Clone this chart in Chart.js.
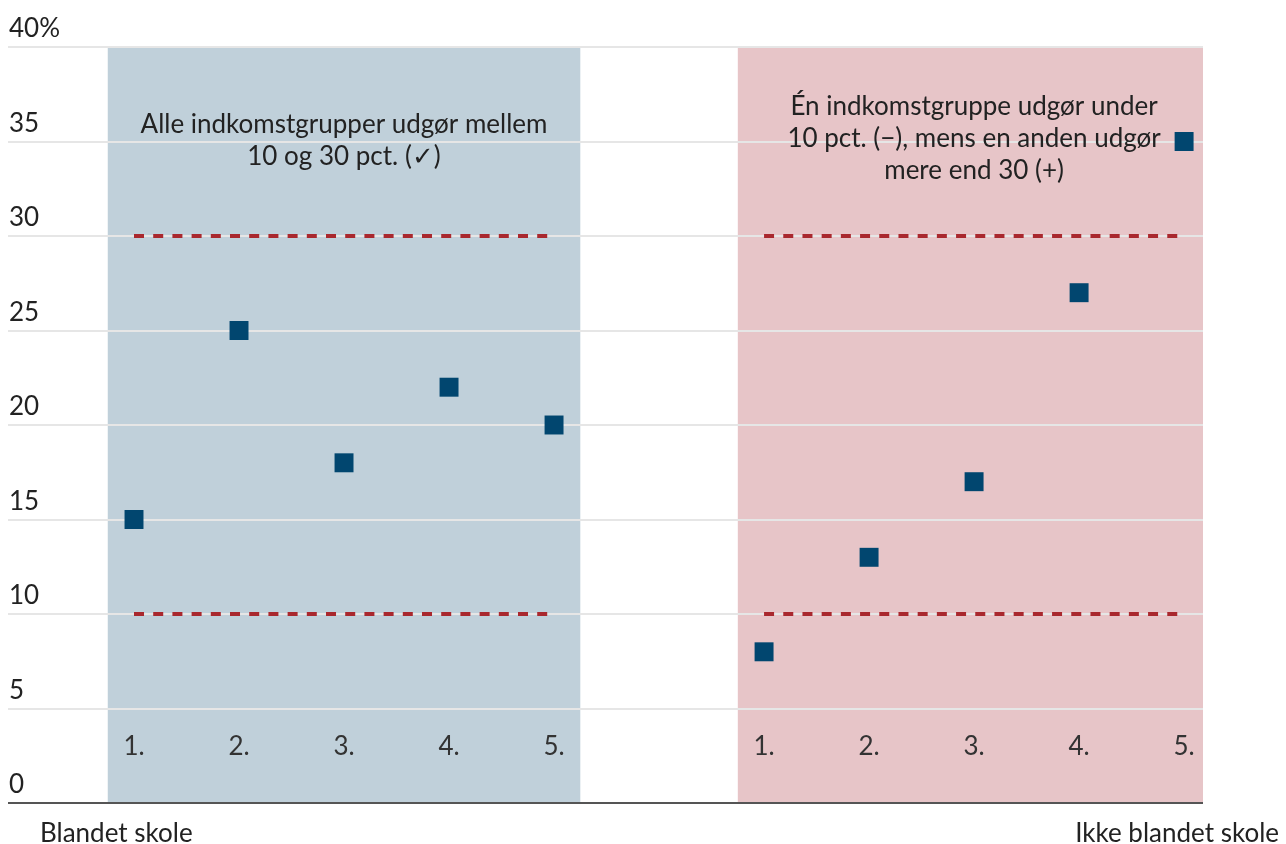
<!DOCTYPE html>
<html>
<head>
<meta charset="utf-8">
<script src="https://cdn.jsdelivr.net/npm/chart.js@4/dist/chart.umd.min.js"></script>
<style>
    html, body {
        margin: 0;
        padding: 0;
        background: #ffffff;
    }

    #chart {
        display: block;
    }
</style>
</head>
<body>
<canvas id="chart" width="1286" height="844"></canvas>
<script>
// data
const groupLabels = ["1.", "2.", "3.", "4.", "5."];
const mixedShares = [15, 25, 18, 22, 20];
const notMixedShares = [8, 13, 17, 27, 35];
const boundLevels = [10, 30];
const yTicks = [0, 5, 10, 15, 20, 25, 30, 35, 40];
const mixedNote = ["Alle indkomstgrupper udgør mellem", "10 og 30 pct. (\u2713)"];
const notMixedNote = ["Én indkomstgruppe udgør under", "10 pct. (\u2212), mens en anden udgør", "mere end 30 (+)"];

// group 1 sits on x = 0..4, group 2 on x = 6..10
const offsets = [0, 6];

const FONT = "Lato, 'Open Sans', sans-serif";
const TEXT = "#222222";

function points(values, offset) {
    return values.map((v, i) => ({ x: i + offset, y: v }));
}

function boundLine(level, offset) {
    return {
        type: "line",
        data: [{ x: offset, y: level }, { x: offset + groupLabels.length - 1, y: level }],
        borderColor: "#a9282e",
        borderWidth: 4,
        borderDash: [10, 9.2],
        borderCapStyle: "butt",
        pointRadius: 0,
        fill: false,
        order: 2,
    };
}

const bandPlugin = {
    id: "bands",
    beforeDraw(chart) {
        const { ctx, chartArea, scales } = chart;
        const bands = [
            { from: offsets[0] - 0.25, to: offsets[0] + 4.25, color: "#c0d0da" },
            { from: offsets[1] - 0.25, to: offsets[1] + 4.25, color: "#e7c5c8" },
        ];
        ctx.save();
        ctx.beginPath();
        ctx.rect(chartArea.left, chartArea.top, chartArea.right - chartArea.left, chartArea.bottom - chartArea.top);
        ctx.clip();
        bands.forEach(b => {
            const x0 = scales.x.getPixelForValue(b.from);
            const x1 = scales.x.getPixelForValue(b.to);
            ctx.fillStyle = b.color;
            ctx.fillRect(x0, chartArea.top, x1 - x0, chartArea.bottom - chartArea.top);
        });
        ctx.restore();
    },
};

const textPlugin = {
    id: "texts",
    afterDraw(chart) {
        const { ctx, chartArea, scales } = chart;
        ctx.save();
        ctx.font = "26px " + FONT;
        ctx.fillStyle = TEXT;

        // y tick labels sit above their grid lines
        ctx.textAlign = "left";
        ctx.textBaseline = "alphabetic";
        yTicks.forEach(t => {
            const y = scales.y.getPixelForValue(t);
            ctx.fillText(t === 40 ? "40%" : String(t), 9, y - 10);
        });

        // group numbers inside the bands
        ctx.textAlign = "center";
        ctx.textBaseline = "middle";
        ctx.fillStyle = "#333333";
        offsets.forEach(off => {
            groupLabels.forEach((lab, i) => {
                ctx.fillText(lab, scales.x.getPixelForValue(i + off), scales.y.getPixelForValue(3));
            });
        });

        // notes
        ctx.fillStyle = TEXT;
        ctx.textBaseline = "alphabetic";
        const drawNote = (lines, xv, yv) => {
            const x = scales.x.getPixelForValue(xv);
            const y = scales.y.getPixelForValue(yv);
            lines.forEach((line, i) => ctx.fillText(line, x, y + i * 32));
        };
        drawNote(mixedNote, offsets[0] + 2, 35.45);
        drawNote(notMixedNote, offsets[1] + 2, 36.4);

        // group names under the axis
        ctx.textAlign = "left";
        ctx.fillText("Blandet skole", 40, chartArea.bottom + 39);
        ctx.textAlign = "right";
        ctx.fillText("Ikke blandet skole", 1279, chartArea.bottom + 39);
        ctx.restore();
    },
};

new Chart(document.getElementById("chart"), {
    type: "scatter",
    data: {
        datasets: [
            {
                data: points(mixedShares, offsets[0]),
                backgroundColor: "#01466f",
                borderWidth: 0,
                pointStyle: "rect",
                pointRadius: 13.4,
                order: 0,
            },
            {
                data: points(notMixedShares, offsets[1]),
                backgroundColor: "#01466f",
                borderWidth: 0,
                pointStyle: "rect",
                pointRadius: 13.4,
                order: 0,
            },
            ...boundLevels.map(l => boundLine(l, offsets[0])),
            ...boundLevels.map(l => boundLine(l, offsets[1])),
        ],
    },
    options: {
        responsive: false,
        animation: false,
        devicePixelRatio: 1,
        layout: {
            autoPadding: false,
            padding: { left: 8, right: 83, top: 47, bottom: 41 },
        },
        plugins: {
            legend: { display: false },
            tooltip: { enabled: false },
        },
        scales: {
            x: {
                type: "linear",
                display: false,
                min: -1.2,
                max: 10.18,
            },
            y: {
                type: "linear",
                min: 0,
                max: 40,
                afterFit: s => { s.width = 0; },
                ticks: { display: false, stepSize: 5 },
                border: { display: false },
                grid: {
                    drawTicks: false,
                    lineWidth: 2,
                    color: ctx => (ctx.tick && ctx.tick.value === 0 ? "#555555" : "#e6e6e6"),
                },
            },
        },
    },
    plugins: [bandPlugin, textPlugin],
});
</script>
</body>
</html>
